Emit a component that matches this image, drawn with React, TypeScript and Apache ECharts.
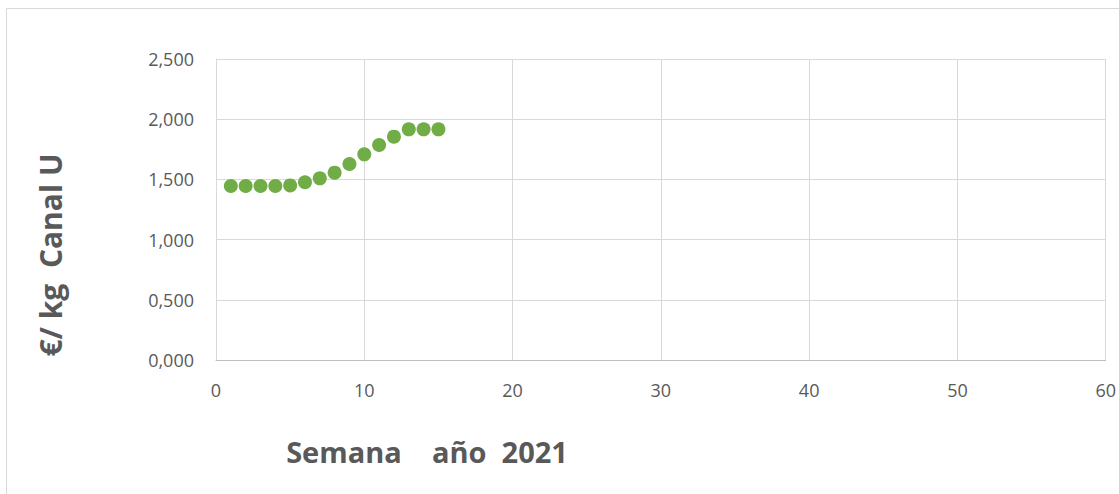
import React, { useEffect, useRef } from "react";
import * as echarts from "echarts";

const weeks = [1, 2, 3, 4, 5, 6, 7, 8, 9, 10, 11, 12, 13, 14, 15];
const prices = [1.445, 1.445, 1.445, 1.445, 1.45, 1.476, 1.509, 1.556, 1.628, 1.708, 1.786, 1.855, 1.916, 1.916, 1.916];
const xTitle = "Semana    año  2021";
const yTitle = "€/ kg  Canal U";

const fmt = (v: number) => v.toFixed(3).replace(".", ",");

export default function App() {
  const ref = useRef<HTMLDivElement>(null);
  useEffect(() => {
    const chart = echarts.init(ref.current!, null, { renderer: "svg" });
    const font = "'Open Sans', 'Noto Sans', sans-serif";
    chart.setOption({
      animation: false,
      backgroundColor: "#ffffff",
      grid: { left: 216, right: 11, top: 59, bottom: 134 },
      xAxis: {
        type: "value",
        min: 0,
        max: 60,
        interval: 10,
        axisLine: { show: true, lineStyle: { color: "#bfbfbf", width: 1 } },
        axisTick: { show: false },
        splitLine: { show: true, lineStyle: { color: "#d9d9d9", width: 1 } },
        axisLabel: { color: "#595959", fontSize: 18, fontFamily: font, margin: 21 },
      },
      yAxis: {
        type: "value",
        min: 0,
        max: 2.5,
        interval: 0.5,
        axisLine: { show: true, lineStyle: { color: "#d9d9d9", width: 1 } },
        axisTick: { show: false },
        splitLine: { show: true, lineStyle: { color: "#d9d9d9", width: 1 } },
        axisLabel: { color: "#595959", fontSize: 18, fontFamily: font, margin: 22, formatter: fmt },
      },
      series: [
        {
          type: "scatter",
          data: weeks.map((w, i) => [w, prices[i]]),
          symbol: "circle",
          symbolSize: 14,
          itemStyle: { color: "#70ad47", opacity: 1 },
        },
      ],
      graphic: [
        {
          type: "rect",
          shape: { x: 6.5, y: 8.5, width: 1130, height: 500 },
          style: { fill: "none", stroke: "#d9d9d9", lineWidth: 1 },
          silent: true,
          z: -1,
        },
        {
          type: "text",
          x: 427,
          y: 451,
          style: {
            text: xTitle,
            fontSize: 29,
            fontWeight: "bold",
            fontFamily: font,
            fill: "#595959",
            align: "center",
            verticalAlign: "middle",
          },
        },
        {
          type: "text",
          x: 50,
          y: 255,
          rotation: Math.PI / 2,
          style: {
            text: yTitle,
            fontSize: 30,
            fontWeight: "bold",
            fontFamily: font,
            fill: "#595959",
            align: "center",
            verticalAlign: "middle",
          },
        },
      ],
    });
    return () => chart.dispose();
  }, []);
  return (
    <div
      ref={ref}
      style={{ position: "absolute", left: 0, top: 0, width: 1119, height: 494 }}
    />
  );
}
